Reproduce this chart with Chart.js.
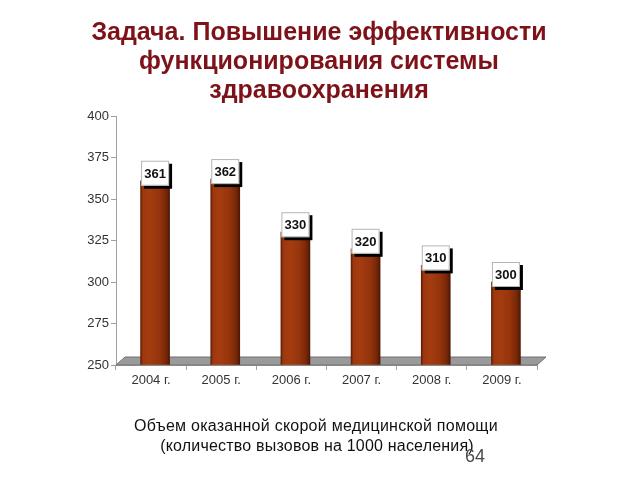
<!DOCTYPE html>
<html>
<head>
<meta charset="utf-8">
<script src="https://cdn.jsdelivr.net/npm/chart.js@4.4.0/dist/chart.umd.min.js"></script>
<style>
html,body{margin:0;padding:0;background:#fff;}
#wrap{width:640px;height:480px;position:relative;}
</style>
</head>
<body>
<div id="wrap"><canvas id="c" width="640" height="480"></canvas></div>
<script>
const categories = ["2004 г.", "2005 г.", "2006 г.", "2007 г.", "2008 г.", "2009 г."];
const callsPer1000 = [361, 362, 330, 320, 310, 300];
const yTicks = [250, 275, 300, 325, 350, 375, 400];
const titleLines = ["Задача. Повышение эффективности", "функционирования системы", "здравоохранения"];
const captionLines = ["Объем оказанной скорой медицинской помощи", "(количество вызовов на 1000 населения)"];
const pageNumber = "64";

const BAR_W = 29;
const DEPTH_SHIFT = 4;

function barGradient(c) {
  const chart = c.chart;
  const xs = chart.scales.x;
  if (!xs || c.dataIndex === undefined) return '#9a330d';
  const px = xs.getPixelForValue(c.dataIndex);
  if (!isFinite(px)) return '#9a330d';
  const g = chart.ctx.createLinearGradient(px - BAR_W / 2, 0, px + BAR_W / 2, 0);
  g.addColorStop(0, '#5e1c05');
  g.addColorStop(0.08, '#9c380f');
  g.addColorStop(0.3, '#a53c10');
  g.addColorStop(0.65, '#95340c');
  g.addColorStop(0.88, '#762708');
  g.addColorStop(1, '#4e1703');
  return g;
}

const depthPlugin = {
  id: 'depth',
  beforeDatasetsDraw(chart) {
    const {ctx, chartArea} = chart;
    const y = chart.scales.y.getPixelForValue(250);
    ctx.save();
    ctx.beginPath();
    ctx.moveTo(chartArea.left, y);
    ctx.lineTo(chartArea.left + 9, y - 8);
    ctx.lineTo(chartArea.right + 9, y - 8);
    ctx.lineTo(chartArea.right, y);
    ctx.closePath();
    ctx.fillStyle = '#9a9a9a';
    ctx.fill();
    ctx.strokeStyle = '#707070';
    ctx.lineWidth = 1;
    ctx.stroke();
    ctx.restore();
    ctx.save();
    ctx.translate(DEPTH_SHIFT, 0);
  },
  afterDatasetsDraw(chart) {
    const {ctx} = chart;
    const meta = chart.getDatasetMeta(0);
    ctx.font = 'bold 13px "Liberation Sans", Arial, sans-serif';
    ctx.textAlign = 'center';
    ctx.textBaseline = 'middle';
    meta.data.forEach((bar, i) => {
      const w = 28, h = 25;
      const x0 = bar.x - w / 2;
      const y1 = bar.y + 5;
      const y0 = y1 - h;
      ctx.fillStyle = '#000';
      ctx.fillRect(x0 + 3, y0 + 3, w, h);
      ctx.fillStyle = '#fff';
      ctx.fillRect(x0, y0, w, h);
      ctx.strokeStyle = '#b5b5b5';
      ctx.lineWidth = 1;
      ctx.strokeRect(x0 + 0.5, y0 + 0.5, w - 1, h - 1);
      ctx.fillStyle = '#111';
      ctx.fillText(String(callsPer1000[i]), bar.x, y0 + h / 2 + 1);
    });
    ctx.restore();
  }
};

const textPlugin = {
  id: 'texts',
  afterDraw(chart) {
    const {ctx} = chart;
    ctx.save();
    ctx.textAlign = 'center';
    ctx.textBaseline = 'alphabetic';
    ctx.fillStyle = '#7d1219';
    ctx.font = 'bold 25px "Liberation Sans", Arial, sans-serif';
    const ty = [40, 69, 98];
    titleLines.forEach((t, i) => ctx.fillText(t, 319, ty[i]));
    ctx.fillStyle = '#111';
    ctx.font = '16px "Liberation Sans", Arial, sans-serif';
    if ('letterSpacing' in ctx) ctx.letterSpacing = '0.25px';
    ctx.fillText(captionLines[0], 316, 431);
    if ('letterSpacing' in ctx) ctx.letterSpacing = '0.2px';
    ctx.fillText(captionLines[1], 317, 451);
    if ('letterSpacing' in ctx) ctx.letterSpacing = '0px';
    ctx.fillStyle = '#4a4a4a';
    ctx.font = '18px "Liberation Sans", Arial, sans-serif';
    ctx.fillText(pageNumber, 475, 462);
    ctx.restore();
  }
};

new Chart(document.getElementById('c'), {
  type: 'bar',
  data: {
    labels: categories,
    datasets: [{
      data: callsPer1000,
      backgroundColor: barGradient,
      borderWidth: 0,
      barThickness: BAR_W,
      base: 250
    }]
  },
  options: {
    responsive: false,
    animation: false,
    layout: {padding: {top: 116, right: 103, left: 0, bottom: 0}},
    plugins: {legend: {display: false}, tooltip: {enabled: false}, title: {display: false}},
    scales: {
      x: {
        grid: {display: true, drawOnChartArea: false, drawTicks: true, tickLength: 5, color: '#a0a0a0', offset: true},
        border: {display: true, color: '#a0a0a0'},
        ticks: {color: '#333', font: {size: 13, family: '"Liberation Sans", Arial, sans-serif'}, padding: 3},
        afterFit(s) { s.height = 115; }
      },
      y: {
        min: 250, max: 400,
        afterBuildTicks(s) { s.ticks = yTicks.map(v => ({value: v})); },
        grid: {display: true, drawOnChartArea: false, drawTicks: true, tickLength: 5, color: '#a0a0a0'},
        border: {display: true, color: '#a0a0a0'},
        ticks: {color: '#333', font: {size: 13, family: '"Liberation Sans", Arial, sans-serif'}, padding: 2},
        afterFit(s) { s.width = 116; }
      }
    }
  },
  plugins: [depthPlugin, textPlugin]
});
</script>
</body>
</html>
